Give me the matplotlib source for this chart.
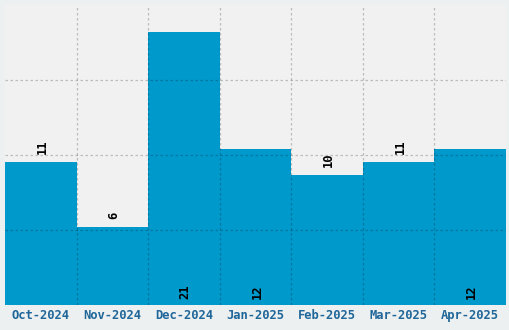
import numpy as np
import matplotlib.pyplot as plt

months = ['Oct-2024', 'Nov-2024', 'Dec-2024', 'Jan-2025', 'Feb-2025', 'Mar-2025', 'Apr-2025']
counts = [11, 6, 21, 12, 10, 11, 12]

bar_color = '#0099cc'
tick_color = '#1f6699'
mono = ['DejaVu Sans Mono']

fig = plt.figure(figsize=(5.1, 3.3), dpi=100)
fig.patch.set_facecolor('#edf0f1')
ax = fig.add_axes([5 / 510, 25 / 330, 501 / 510, 300 / 330])
ax.set_facecolor('#f1f1f1')

x = np.arange(len(months))
ax.bar(x, counts, width=1.0, color=bar_color, zorder=1)

ymax = max(counts) * 1.1
ax.set_xlim(-0.5, len(months) - 0.5)
ax.set_ylim(0, ymax)

# grid on top of the bars
ax.set_yticks([ymax * k / 4 for k in range(1, 4)])
ax.set_xticks(x[:-1] + 0.5, minor=True)
ax.grid(True, axis='y', which='major', linestyle=(0, (2, 2)), color='black', alpha=0.22, linewidth=0.9, zorder=2)
ax.grid(True, axis='x', which='minor', linestyle=(0, (2, 2)), color='black', alpha=0.22, linewidth=0.9, zorder=2)
ax.set_axisbelow(False)

ax.set_xticks(x)
ax.set_xticklabels(months, family=mono, fontweight='bold', fontsize=8.7, color=tick_color)
ax.tick_params(axis='x', which='both', length=0, pad=3)
ax.tick_params(axis='y', which='both', length=0, labelleft=False)
for s in ax.spines.values():
    s.set_visible(False)

for xi, v in zip(x, counts):
    if v >= 12:
        ax.text(xi + 0.02, 0.45, str(v), rotation=90, ha='center', va='bottom',
                family=mono, fontweight='bold', fontsize=8.7, color='black', zorder=3)
    else:
        ax.text(xi + 0.02, v + 0.6, str(v), rotation=90, ha='center', va='bottom',
                family=mono, fontweight='bold', fontsize=8.7, color='black', zorder=3)

fig.savefig('out.png', dpi=100, facecolor=fig.get_facecolor())
